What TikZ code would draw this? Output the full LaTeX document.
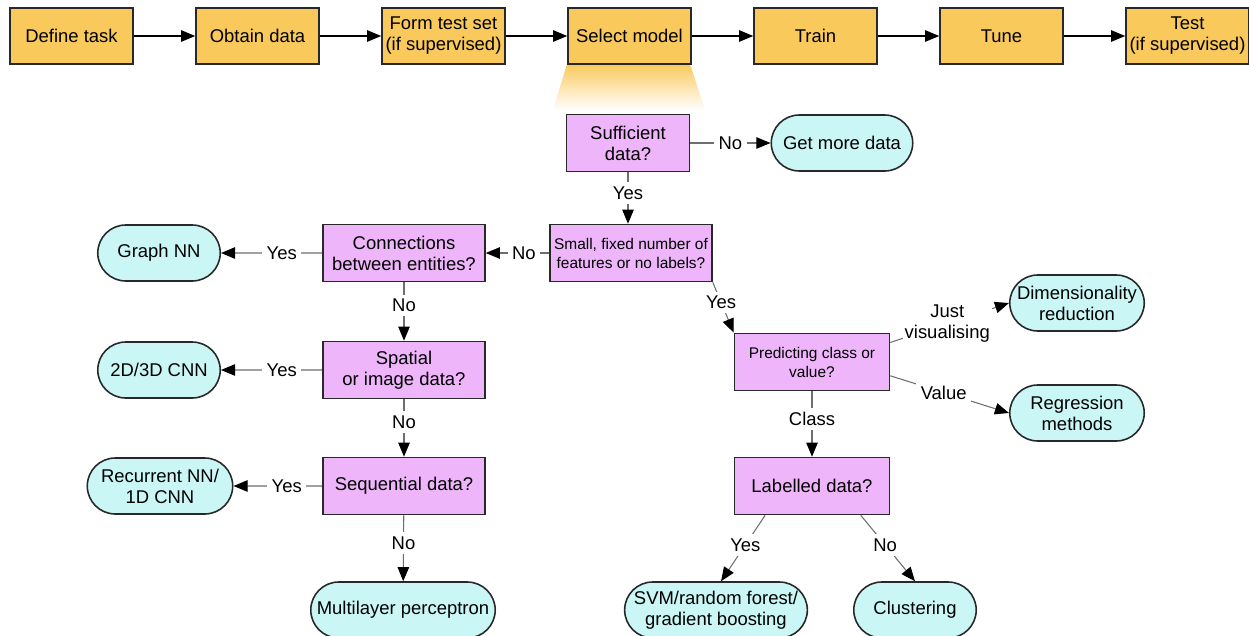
\documentclass[tikz,border=0pt]{standalone}
\usepackage{fontspec}
\setmainfont{Liberation Sans}
\usetikzlibrary{arrows.meta,shapes.misc}
\definecolor{stagefill}{RGB}{249,201,92}
\definecolor{askfill}{RGB}{238,181,250}
\definecolor{endfill}{RGB}{202,246,246}
\definecolor{boxline}{RGB}{40,40,40}
\definecolor{linkgray}{RGB}{110,110,110}
\newcommand{\bigtxt}{\fontsize{10.5}{12}\selectfont}
\newcommand{\smalltxt}{\fontsize{8.8}{10.8}\selectfont}
\tikzset{
  stage/.style={draw=boxline, fill=stagefill, line width=0.9pt, minimum width=2.46cm, minimum height=1.12cm, align=center, inner sep=1pt, font=\bigtxt},
  ask/.style={draw=boxline, fill=askfill, line width=0.9pt, minimum height=1.14cm, align=center, inner sep=1pt, font=\bigtxt},
  outcome/.style={rounded rectangle, draw=boxline, fill=endfill, line width=0.9pt, minimum height=1.12cm, align=center, inner sep=1pt, font=\bigtxt},
  flow/.style={draw=black, line width=0.6pt, -{Triangle[length=8pt,width=6.5pt]}},
  branch/.style={draw=linkgray, line width=0.6pt, -{Triangle[length=8pt,width=6.5pt,color=black]}},
  lbl/.style={fill=white, inner sep=2.5pt, font=\bigtxt, align=center, text=black}
}
\begin{document}
\begin{tikzpicture}[x=0.02cm, y=-0.02cm]
\useasboundingbox[fill=white] (0,0) rectangle (1249,636);
% glow under the model step
\shade[top color=stagefill, bottom color=white] (567,64) -- (690,64) -- (705,110) -- (553,110) -- cycle;
% pipeline
\foreach \i/\name/\txt in {0/define/Define task, 1/obtain/Obtain data, 2/formtest/{Form test set\\(if supervised)}, 3/select/Select model, 4/train/Train, 5/tune/Tune, 6/test/{Test\\(if supervised)}}
  \node[stage] (\name) at (71.5+186*\i,36) {\txt};
\foreach \a/\b in {define/obtain, obtain/formtest, formtest/select, select/train, train/tune, tune/test}
  \draw[flow] (\a) -- (\b);
% questions
\node[ask, minimum width=2.46cm] (suff) at (628,143) {Sufficient\\data?};
\node[ask, minimum width=3.24cm, font=\smalltxt] (small) at (631,253) {Small, fixed number of\\features or no labels?};
\node[ask, minimum width=3.24cm] (conn) at (404,253) {Connections\\between entities?};
\node[ask, minimum width=3.24cm] (spatial) at (404,370) {Spatial\\or image data?};
\node[ask, minimum width=3.24cm] (seq) at (404,486) {Sequential data?};
\node[ask, minimum width=3.1cm, font=\smalltxt] (pred) at (812,362) {Predicting class or\\value?};
\node[ask, minimum width=3.1cm] (labelled) at (812,486) {Labelled data?};
% answers
\node[outcome, minimum width=2.9cm] (more) at (842,143) {Get more data};
\node[outcome, minimum width=2.52cm] (graph) at (159,253) {Graph NN};
\node[outcome, minimum width=2.52cm] (cnn) at (159,370) {2D/3D CNN};
\node[outcome, minimum width=2.98cm] (rnn) at (160,486) {Recurrent NN/\\1D CNN};
\node[outcome, minimum width=3.76cm] (mlp) at (403,610) {Multilayer perceptron};
\node[outcome, minimum width=2.76cm] (dimred) at (1077,303) {Dimensionality\\reduction};
\node[outcome, minimum width=2.76cm] (regress) at (1077,413) {Regression\\methods};
\node[outcome, minimum width=3.44cm] (svm) at (716,610) {SVM/random forest/\\gradient boosting};
\node[outcome, minimum width=2.52cm] (cluster) at (915,610) {Clustering};
% branches
\draw[branch] (suff) -- node[lbl]{No} (more);
\draw[branch] (suff) -- node[lbl, pos=0.4]{Yes} (suff |- small.north);
\draw[branch] (small) -- node[lbl, pos=0.4]{No} (conn);
\draw[branch] (conn) -- node[lbl, pos=0.4]{Yes} (graph);
\draw[branch] (conn) -- node[lbl, pos=0.4]{No} (spatial);
\draw[branch] (spatial) -- node[lbl, pos=0.4]{Yes} (cnn);
\draw[branch] (spatial) -- node[lbl, pos=0.4]{No} (seq);
\draw[branch] (seq) -- node[lbl, pos=0.4]{Yes} (rnn);
\draw[branch] (seq) -- node[lbl, pos=0.42]{No} (mlp);
\draw[branch] (small.south east) -- node[lbl, pos=0.4]{Yes} (pred.north west);
\draw[branch] (pred.14) -- node[lbl, pos=0.48, inner sep=1pt]{Just\\visualising} (dimred.west);
\draw[branch] (pred.-10) -- node[lbl, pos=0.45]{Value} (regress.west);
\draw[branch] (pred) -- node[lbl, pos=0.42]{Class} (labelled);
\draw[branch] (labelled.212) -- node[lbl, pos=0.45]{Yes} (svm.80);
\draw[branch] (labelled.329) -- node[lbl, pos=0.45]{No} (cluster.north);
\end{tikzpicture}
\end{document}
